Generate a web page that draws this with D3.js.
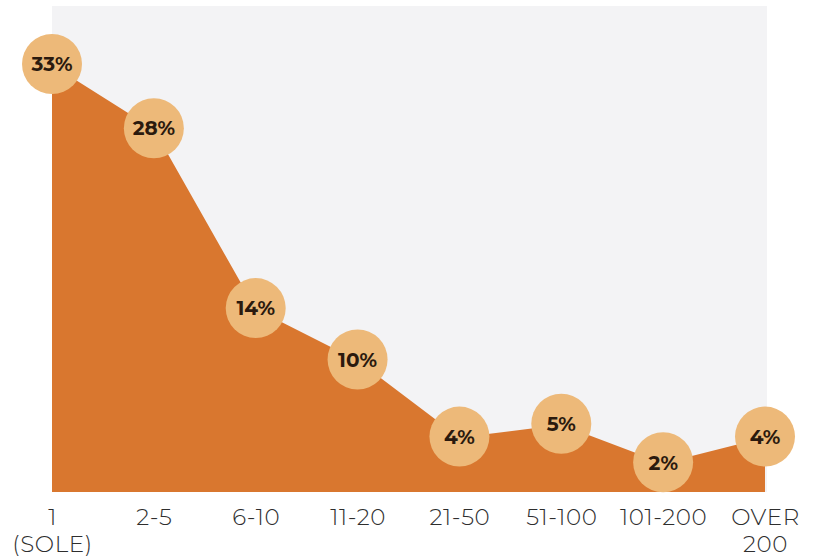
<!DOCTYPE html>
<html>
<head>
<meta charset="utf-8">
<script src="https://cdn.jsdelivr.net/npm/d3@7"></script>
<style>
  html, body { margin: 0; padding: 0; background: #ffffff; }
  svg { display: block; }
</style>
</head>
<body>
<svg id="chart" width="817" height="558"></svg>
<script>
// Share of businesses by number of employees
const categories = ["1", "2-5", "6-10", "11-20", "21-50", "51-100", "101-200", "OVER 200"];
const tickLines = [["1", "(SOLE)"], ["2-5"], ["6-10"], ["11-20"], ["21-50"], ["51-100"], ["101-200"], ["OVER", "200"]];
const shares = [33, 28, 14, 10, 4, 5, 2, 4];

const svg = d3.select("#chart");
const plot = { left: 52, right: 765, top: 6, bottom: 492 };

const x = d3.scalePoint().domain(categories).range([plot.left, plot.right]);
const y = d3.scaleLinear().domain([0, 33]).range([489, 65]);

// plot panel
svg.append("rect")
  .attr("x", plot.left).attr("y", plot.top)
  .attr("width", plot.right - plot.left + 2).attr("height", plot.bottom - plot.top)
  .attr("fill", "#f3f3f5");

const data = categories.map((c, i) => ({ c, v: shares[i] }));

// filled area
const area = d3.area()
  .x(d => x(d.c))
  .y0(plot.bottom)
  .y1(d => y(d.v));

svg.append("path")
  .datum(data)
  .attr("d", area)
  .attr("fill", "#d9772f");

// value markers
const marks = svg.append("g").selectAll("g")
  .data(data).join("g")
  .attr("transform", d => `translate(${x(d.c)},${y(d.v) - 1})`);

marks.append("circle")
  .attr("r", 30)
  .attr("fill", "#edb979");

marks.append("text")
  .attr("text-anchor", "middle")
  .attr("dy", "0.36em")
  .attr("font-family", "Montserrat, 'Open Sans', sans-serif")
  .attr("font-weight", 700)
  .attr("font-size", 20)
  .attr("fill", "#2b1a0e")
  .text(d => d.v + "%");

// category axis
const axis = d3.axisBottom(x).tickSize(0).tickFormat("");
const gAxis = svg.append("g")
  .attr("transform", `translate(0,${plot.bottom})`)
  .call(axis);
gAxis.select(".domain").remove();

gAxis.selectAll(".tick").each(function (d, i) {
  const t = d3.select(this).append("text")
    .attr("text-anchor", "middle")
    .attr("font-family", "Montserrat, Lato, 'Noto Sans', sans-serif")
    .attr("font-weight", 300)
    .attr("font-size", 23)
    .attr("letter-spacing", 0.6)
    .attr("fill", "#2e2e2e");
  tickLines[i].forEach((line, j) => {
    t.append("tspan")
      .attr("x", 0)
      .attr("y", 33 + j * 27)
      .text(line);
  });
});
</script>
</body>
</html>
